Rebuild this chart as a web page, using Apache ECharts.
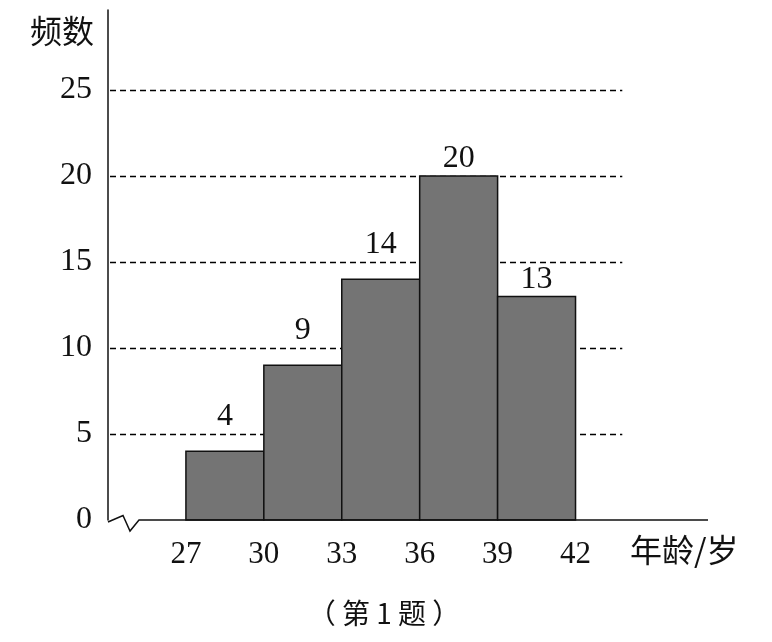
<!DOCTYPE html>
<html>
<head>
<meta charset="utf-8">
<script src="https://cdn.jsdelivr.net/npm/echarts@6/dist/echarts.min.js"></script>
<style>
html,body{margin:0;padding:0;background:#fff;}
#main{width:772px;height:642px;}
</style>
</head>
<body>
<div id="main"></div>
<script>
// ---- data ----
const binEdges = [27, 30, 33, 36, 39, 42];
const frequencies = [4, 9, 14, 20, 13];
const yTicks = [0, 5, 10, 15, 20, 25];
const xTickLabels = [27, 30, 33, 36, 39, 42];
const yAxisName = '频数';
const xAxisName = '年龄/岁';
const caption = '（ 第 1 题 ）';

const NUM_FONT = '"Liberation Serif", "DejaVu Serif", serif';
const CJK_FONT = '"Noto Sans CJK SC", sans-serif';

const X_MIN = 24, X_MAX = 47.1, GRID_END = 43.8;
const Y_MAX = 29.65;

const chart = echarts.init(document.getElementById('main'), null, {renderer: 'canvas'});

const barData = frequencies.map((f, i) => [binEdges[i], binEdges[i + 1], f]);
const gridData = yTicks.filter(v => v > 0).map(v => [v]);

const option = {
  animation: false,
  backgroundColor: '#fff',
  grid: {left: 108, right: 772 - 708, top: 10, bottom: 642 - 520},
  xAxis: {
    type: 'value', min: X_MIN, max: X_MAX, interval: 3,
    axisLine: {show: false}, axisTick: {show: false}, splitLine: {show: false},
    axisLabel: {
      margin: 19, color: '#111', fontFamily: NUM_FONT, fontSize: 31,
      formatter: v => xTickLabels.indexOf(v) >= 0 ? String(v) : ''
    }
  },
  yAxis: {
    type: 'value', min: 0, max: Y_MAX, interval: 5,
    axisLine: {show: true, onZero: false, lineStyle: {color: '#111', width: 1.5}},
    axisTick: {show: false}, splitLine: {show: false},
    axisLabel: {
      margin: 16, color: '#111', fontFamily: NUM_FONT, fontSize: 32,
      formatter: v => yTicks.indexOf(v) >= 0 ? String(v) : ''
    }
  },
  series: [
    {
      type: 'custom', z: 1, silent: true,
      data: gridData,
      renderItem: function (params, api) {
        const v = api.value(0);
        const a = api.coord([X_MIN, v]);
        const b = api.coord([GRID_END, v]);
        const y = Math.round(a[1]) + 0.5;
        return {
          type: 'line',
          shape: {x1: a[0] + 2, y1: y, x2: b[0], y2: y},
          style: {stroke: '#000', lineWidth: 1.3, lineDash: [6, 4]}
        };
      }
    },
    {
      type: 'custom', z: 3, silent: true,
      data: barData,
      renderItem: function (params, api) {
        const x0 = api.value(0), x1 = api.value(1), f = api.value(2);
        const a = api.coord([x0, 0]);
        const b = api.coord([x1, f]);
        const up = Math.ceil(f / 5) * 5;
        const anchor = (up - f <= 1) ? up : f;
        const lp = api.coord([(x0 + x1) / 2, anchor]);
        return {
          type: 'group',
          children: [
            {
              type: 'rect',
              shape: {x: a[0], y: b[1], width: b[0] - a[0], height: a[1] - b[1]},
              style: {fill: '#747474', stroke: '#111', lineWidth: 1.5}
            },
            {
              type: 'text',
              x: lp[0], y: lp[1] - 1,
              style: {
                text: String(f), fill: '#111', font: '32px ' + NUM_FONT,
                align: 'center', verticalAlign: 'bottom'
              }
            }
          ]
        };
      }
    },
    {
      type: 'custom', z: 4, silent: true,
      data: [[0]],
      renderItem: function (params, api) {
        const o = api.coord([X_MIN, 0]);
        const cs = params.coordSys;
        const ox = cs.x;
        return {
          type: 'polyline',
          shape: {points: [
            [ox, o[1] + 2], [ox + 15, o[1] - 4.5], [ox + 22, o[1] + 11],
            [ox + 31, o[1]], [cs.x + cs.width, o[1]]
          ]},
          style: {stroke: '#111', lineWidth: 1.5, fill: null}
        };
      }
    }
  ],
  graphic: [
    {
      type: 'text', left: 30, top: 15,
      style: {text: yAxisName, fill: '#111', font: '32px ' + CJK_FONT}
    },
    {
      type: 'text', left: 630, top: 534,
      style: {text: xAxisName, fill: '#111', font: '32px ' + CJK_FONT}
    },
    {
      type: 'text', x: 384, y: 613,
      style: {text: caption, fill: '#111', font: '28px ' + CJK_FONT, align: 'center', verticalAlign: 'middle'}
    }
  ]
};

chart.setOption(option);
</script>
</body>
</html>
